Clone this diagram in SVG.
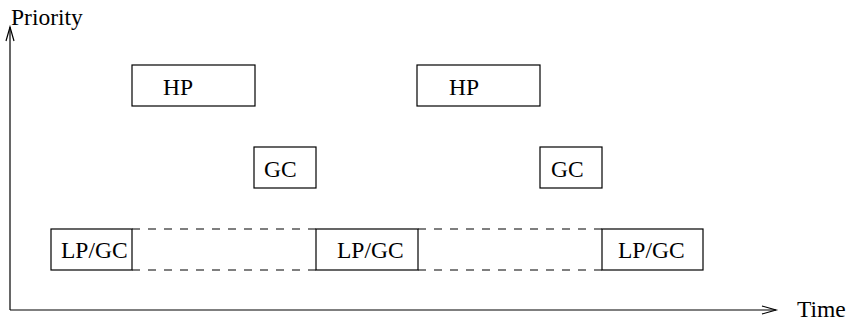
<svg xmlns="http://www.w3.org/2000/svg" width="849" height="324" viewBox="0 0 849 324">
<style>
text{font-family:"Liberation Serif","Times New Roman",serif;font-size:23.5px;fill:#000}
.box{fill:none;stroke:#000;stroke-width:1.2}
.dash{fill:none;stroke:#000;stroke-width:1.2;stroke-dasharray:8 8}
.axis{fill:none;stroke:#000;stroke-width:1.2}
</style>
<rect width="849" height="324" fill="#fff"/>
<g id="connectors">
<path class="axis" d="M10 310 V27"/>
<path class="axis" d="M6 41 L10 27 L14 41"/>
<path class="axis" d="M10 310 H776"/>
<path class="axis" d="M762 306 L776 310 L762 314"/>
<path class="dash" d="M132 229 H316 M132 270 H316"/>
<path class="dash" d="M418 229 H602 M418 270 H602"/>
</g>
<g id="axis-labels">
<text x="11" y="25">Priority</text>
<text x="797" y="317">Time</text>
</g>
<g id="hp1"><rect class="box" x="132" y="65" width="123" height="41"/><text x="163" y="95">HP</text></g>
<g id="hp2"><rect class="box" x="417" y="65" width="123" height="41"/><text x="449" y="95">HP</text></g>
<g id="gc1"><rect class="box" x="254" y="147" width="62" height="41"/><text x="264" y="177">GC</text></g>
<g id="gc2"><rect class="box" x="540" y="147" width="62" height="41"/><text x="551" y="177">GC</text></g>
<g id="lpgc1"><rect class="box" x="51" y="229" width="81" height="41"/><text x="61" y="258">LP/GC</text></g>
<g id="lpgc2"><rect class="box" x="316" y="229" width="102" height="41"/><text x="337" y="258">LP/GC</text></g>
<g id="lpgc3"><rect class="box" x="602" y="229" width="101" height="41"/><text x="618" y="258">LP/GC</text></g>
</svg>
